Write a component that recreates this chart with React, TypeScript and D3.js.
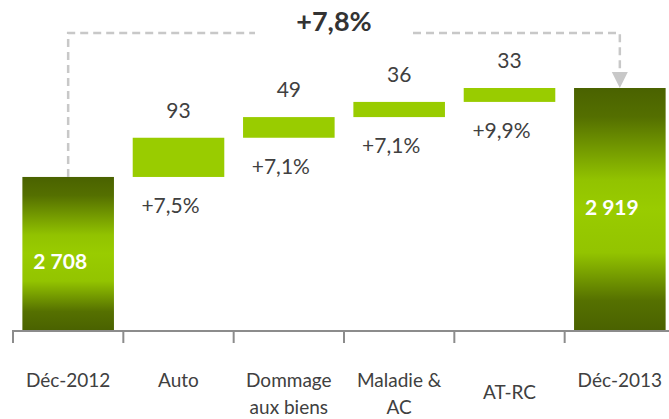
import React, { useEffect, useRef } from 'react'
import * as d3 from 'd3'

// waterfall data
const categories = [
  ['Déc-2012'],
  ['Auto'],
  ['Dommage', 'aux biens'],
  ['Maladie &', 'AC'],
  ['AT-RC'],
  ['Déc-2013'],
]
const startValue = 2708
const increments = [93, 49, 36, 33]
const growthRates = [7.5, 7.1, 7.1, 9.9]
const endValue = 2919
const yDomain = [2345, 2919]

const fr = d3.formatLocale({ decimal: ',', thousands: ' ', grouping: [3], currency: ['', '€'] })
const fmtInt = fr.format(',d')
const fmtPct = (v: number) => '+' + fr.format('.1f')(v) + '%'

export default function App() {
  const ref = useRef<SVGSVGElement>(null)

  useEffect(() => {
    const width = 669
    const font = 'Lato, "Open Sans", sans-serif'
    const textColor = '#404040'

    const svg = d3.select(ref.current)
    svg.selectAll('*').remove()

    const x = d3
      .scaleBand()
      .domain(d3.range(categories.length).map(String))
      .range([13, 675])
      .paddingInner(0.17)
      .paddingOuter(0.085)
    const step = x.step()
    const bw = x.bandwidth()
    const y = d3.scaleLinear().domain(yDomain).range([330, 88])

    // gradient for total bars
    const grad = svg
      .append('defs')
      .append('linearGradient')
      .attr('id', 'totalGrad')
      .attr('x1', 0)
      .attr('y1', 0)
      .attr('x2', 0)
      .attr('y2', 1)
    ;[
      [0, '#4a6200'],
      [0.12, '#546f00'],
      [0.38, '#92c300'],
      [0.5, '#99cc00'],
      [0.68, '#93c400'],
      [0.88, '#557000'],
      [1, '#4a6200'],
    ].forEach(([o, c]) => grad.append('stop').attr('offset', o as number).attr('stop-color', c as string))

    // cumulative positions
    let run = startValue
    const steps = increments.map((v, i) => {
      const s = { i: i + 1, from: run, to: run + v, v, g: growthRates[i] }
      run += v
      return s
    })

    const totals = [
      { i: 0, v: startValue },
      { i: categories.length - 1, v: endValue },
    ]

    // total bars
    svg
      .selectAll('rect.total')
      .data(totals)
      .enter()
      .append('rect')
      .attr('x', (d) => x(String(d.i))!)
      .attr('y', (d) => y(d.v))
      .attr('width', bw)
      .attr('height', (d) => y(yDomain[0]) - y(d.v))
      .attr('fill', 'url(#totalGrad)')

    svg
      .selectAll('text.total')
      .data(totals)
      .enter()
      .append('text')
      .attr('x', (d) => x(String(d.i))! + bw / 2 - 8)
      .attr('y', (d) => (y(d.v) + y(yDomain[0])) / 2 + (d.i === 0 ? 16 : 6))
      .attr('text-anchor', 'middle')
      .attr('font-family', font)
      .attr('font-weight', 'bold')
      .attr('font-size', 21)
      .attr('fill', '#fff')
      .text((d) => fmtInt(d.v))

    // increment bars
    svg
      .selectAll('rect.step')
      .data(steps)
      .enter()
      .append('rect')
      .attr('x', (d) => x(String(d.i))!)
      .attr('y', (d) => y(d.to))
      .attr('width', bw)
      .attr('height', (d) => y(d.from) - y(d.to))
      .attr('fill', '#99cc00')

    svg
      .selectAll('text.val')
      .data(steps)
      .enter()
      .append('text')
      .attr('x', (d) => x(String(d.i))! + bw / 2)
      .attr('y', (d) => y(d.to) - 20)
      .attr('text-anchor', 'middle')
      .attr('font-family', font)
      .attr('font-size', 21)
      .attr('fill', textColor)
      .text((d) => d.v)

    svg
      .selectAll('text.pct')
      .data(steps)
      .enter()
      .append('text')
      .attr('x', (d) => x(String(d.i))! + bw / 2 - 8)
      .attr('y', (d) => y(d.from) + 36)
      .attr('text-anchor', 'middle')
      .attr('font-family', font)
      .attr('font-size', 21)
      .attr('fill', textColor)
      .text((d) => fmtPct(d.g))

    // dashed connector with arrow
    const xs = x('0')! + bw / 2
    const xe = x(String(categories.length - 1))! + bw / 2
    const yTop = 33
    const gapL = 255
    const gapR = 413
    ;[
      [
        [xs, y(startValue)],
        [xs, yTop],
        [gapL, yTop],
      ],
      [
        [gapR, yTop],
        [xe, yTop],
        [xe, y(endValue) - 15],
      ],
    ].forEach((pts) => {
      svg
        .append('path')
        .attr('d', d3.line()(pts as [number, number][]))
        .attr('fill', 'none')
        .attr('stroke', '#c8c8c8')
        .attr('stroke-width', 2.5)
        .attr('stroke-dasharray', '8,5')
    })
    svg
      .append('path')
      .attr('d', `M${xe - 8},${y(endValue) - 16}L${xe + 8},${y(endValue) - 16}L${xe},${y(endValue)}Z`)
      .attr('fill', '#c8c8c8')

    svg
      .append('text')
      .attr('x', (gapL + gapR) / 2)
      .attr('y', 31)
      .attr('text-anchor', 'middle')
      .attr('font-family', font)
      .attr('font-weight', 'bold')
      .attr('font-size', 27)
      .attr('fill', '#333')
      .text(fmtPct(Math.round(((endValue - startValue) / startValue) * 1000) / 10))

    // axis
    const axisY = y(yDomain[0])
    svg
      .append('line')
      .attr('x1', 12)
      .attr('x2', width)
      .attr('y1', axisY + 1)
      .attr('y2', axisY + 1)
      .attr('stroke', '#8c8c8c')
      .attr('stroke-width', 2)
    svg
      .selectAll('line.tick')
      .data(d3.range(categories.length + 1))
      .enter()
      .append('line')
      .attr('x1', (i) => 13 + i * step)
      .attr('x2', (i) => 13 + i * step)
      .attr('y1', axisY)
      .attr('y2', axisY + 13)
      .attr('stroke', '#8c8c8c')
      .attr('stroke-width', 2)

    // category labels
    const lab = svg
      .selectAll('text.cat')
      .data(categories)
      .enter()
      .append('text')
      .attr('x', (_, i) => x(String(i))! + bw / 2)
      .attr('y', (d) => (d[0] === 'AT-RC' ? 399 : 387))
      .attr('text-anchor', 'middle')
      .attr('font-family', font)
      .attr('font-size', 19)
      .attr('fill', textColor)
    lab
      .selectAll('tspan')
      .data((d) => d)
      .enter()
      .append('tspan')
      .attr('x', function () {
        return (this.parentNode as SVGTextElement).getAttribute('x')
      })
      .attr('dy', (_, j) => (j === 0 ? 0 : 27))
      .text((d) => d)
  }, [])

  return (
    <svg
      ref={ref}
      width={669}
      height={419}
      style={{ position: 'absolute', left: 0, top: 0, background: '#fff' }}
    />
  )
}
